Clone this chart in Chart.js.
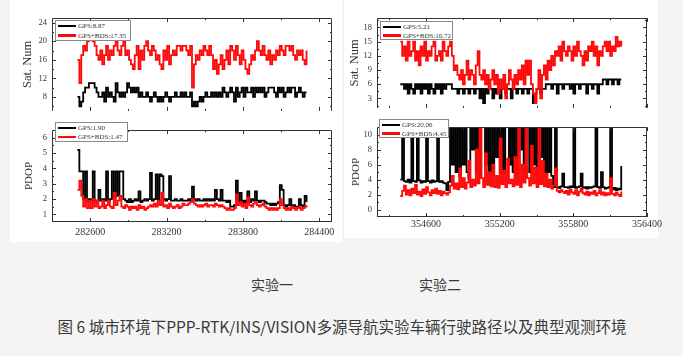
<!DOCTYPE html>
<html><head><meta charset="utf-8">
<script src="https://cdn.jsdelivr.net/npm/chart.js@4.4.1/dist/chart.umd.min.js"></script>
<style>
html,body{margin:0;padding:0;}
body{width:683px;height:356px;background:#f4f4f4;position:relative;overflow:hidden;font-family:"Liberation Serif",serif;}
.sheet{position:absolute;background:#fff;}
canvas{position:absolute;}
.leg{position:absolute;border:1px solid #8a8a8a;background:#fff;box-sizing:border-box;}
.row{position:absolute;left:2px;height:9px;display:flex;align-items:center;white-space:nowrap;font:7px "Liberation Serif",serif;color:#333;}
.row i{display:inline-block;width:18px;height:2.5px;margin-right:2px;}
.cap{position:absolute;font-family:"Noto Sans CJK SC",sans-serif;color:#3a3a3a;white-space:nowrap;transform:translate(-50%,-50%);}
</style></head>
<body>
<div class="sheet" style="left:10px;top:0;width:332px;height:242px"></div>
<div class="sheet" style="left:344px;top:0;width:314px;height:238px"></div>
<canvas id="c1a" width="340" height="121" style="left:0;top:0;width:340px;height:121px"></canvas>
<canvas id="c1b" width="340" height="135" style="left:0;top:120px;width:340px;height:135px"></canvas>
<canvas id="c2a" width="340" height="118" style="left:330px;top:0;width:340px;height:118px"></canvas>
<canvas id="c2b" width="340" height="133" style="left:330px;top:117px;width:340px;height:133px"></canvas>
<div id="legends"></div>
<div class="cap" id="capA" style="left:272px;top:284px;font-size:14px"></div>
<div class="cap" id="capB" style="left:440px;top:284px;font-size:14px"></div>
<div class="cap" id="capMain" style="left:342px;top:326px;font-size:15.5px"></div>
<script>
// ---------- data ----------
const epochStep = 15;
const exp1Start = 282500;
const exp2Start = 354390;

const sat1Gps = [8,6,7,9,10,10,11,11,11,10, 9,8,8,9,7,10,8,9,8,7, 11,9,8,9,8,9,11,10,9,10, 9,10,8,9,8,8,9,8,7,8, 9,8,7,8,7,8,9,8,7,8, 8,9,8,8,9,8,9,8,8,9, 6,7,6,7,8,7,8,9,8,8, 9,8,9,8,9,8,10,9,8,9, 10,9,7,10,8,9,10,8,10,9, 9,10,8,10,9,10,9,10,8,9, 10,10,10,9,8,10,9,10,8,9, 10,9,10,10,8,9,10,9,8,9,9];
const sat1Bds = [16,11,17,19,18,20,21,21,20,19, 17,16,18,15,17,19,16,18,17,19, 20,18,17,19,20,17,18,16,15,14, 17,19,14,18,16,19,20,18,17,19, 18,16,17,15,14,18,16,19,15,17, 18,17,19,19,18,19,19,18,17,19, 10,15,17,16,18,17,19,18,17,19, 17,14,16,13,15,17,14,16,18,15, 19,18,16,19,17,15,18,16,14,13, 15,17,16,18,20,18,17,19,17,16, 18,15,17,16,18,17,19,18,17,19, 19,18,19,17,16,18,17,18,16,15,18];
const pdop1Gps = [5.2,3.8,3.8,2.0,3.8,1.9,2.0,1.9,3.8,1.9, 1.9,2.6,1.9,2.0,1.9,3.8,1.9,2.0,3.8,2.1, 3.8,2.2,3.8,3.8,2.0,1.9,1.8,2.0,1.8,1.9, 2.0,1.9,2.5,1.8,1.9,2.0,1.9,2.0,3.7,1.9, 2.0,3.6,2.0,3.6,3.5,2.0,1.9,2.0,3.5,1.9, 1.9,2.0,1.9,1.9,2.0,1.9,1.9,1.9,2.0,1.9, 2.8,2.0,1.9,2.0,1.9,1.9,2.0,1.9,2.0,1.9, 2.0,1.9,2.6,2.0,1.9,2.6,1.9,1.9,1.8,1.9, 1.5,1.5,1.6,3.2,1.8,2.4,1.7,1.9,1.8,2.5, 1.8,2.0,1.9,2.5,1.9,1.8,1.9,1.9,1.8,1.7, 1.7,1.6,1.7,1.6,1.7,1.8,2.9,2.6,1.6,1.5, 1.6,2.0,1.5,1.6,1.5,1.5,2.0,1.6,1.5,2.2,1.8];
const pdop1Bds = [2.6,3.2,2.2,1.5,2.0,1.4,1.9,1.4,2.0,1.5, 1.9,1.4,1.5,1.9,1.4,1.6,1.9,1.5,1.4,2.4, 1.6,1.9,2.2,1.5,1.4,1.6,1.5,1.3,1.5,1.4, 1.5,1.3,1.6,1.4,1.5,1.3,1.4,1.5,1.6,1.5, 1.7,1.5,1.9,1.6,2.4,1.5,1.6,1.4,1.7,1.5, 1.4,1.5,1.6,1.4,1.5,1.7,1.6,1.6,1.7,1.8, 2.0,1.7,1.6,1.5,1.6,1.5,1.6,1.7,1.5,1.6, 1.6,1.5,1.7,1.6,1.5,1.6,1.5,1.4,1.3,1.4, 1.3,1.3,1.4,2.3,1.6,1.8,1.5,1.7,1.4,2.1, 1.6,1.5,1.7,1.8,1.6,1.5,1.6,1.7,1.5,1.4, 1.3,1.4,1.3,1.4,1.3,1.4,2.0,1.6,1.4,1.3, 1.4,1.3,1.5,1.4,1.3,1.4,1.5,1.3,1.4,1.5,1.6];

const sat2Gps = [6,6,5,6,4,6,5,4,6,5, 6,4,6,5,6,4,6,5,4,6, 5,6,4,6,5,6,6,6,5,5, 5,4,5,5,4,5,5,4,5,5, 4,5,5,3,5,2,5,4,5,5, 3,5,4,5,3,5,5,4,5,5, 3,5,5,4,5,5,4,5,5,4, 5,5,2,4,5,5,4,5,5,6, 6,6,5,6,6,4,6,6,5,6, 6,6,5,6,4,6,6,5,6,6, 6,4,6,6,5,6,6,4,6,6, 7,7,6,7,7,6,7,7,6,7,7];
const sat2Bds = [15,12,14,11,15,12,13,15,11,13, 10,14,12,15,11,13,12,14,15,11, 12,13,11,15,13,12,14,15,12,9, 10,8,7,9,6,8,11,7,9,8, 6,10,13,8,7,9,6,8,5,7, 9,6,8,4,7,5,8,3,6,9, 7,5,8,6,9,7,10,6,11,8, 11,6,4,2,5,9,3,8,10,7, 11,9,12,10,13,12,14,11,15,13, 12,14,13,11,14,12,15,13,12,10, 13,11,14,13,15,12,14,10,13,12, 14,15,13,15,12,14,13,16,14,15,14];
const pdop2Gps = [4.0,30,3.8,3.7,4.0,3.6,30,3.8,3.7,30, 3.9,3.6,3.8,3.7,30,3.8,3.6,3.9,3.7,3.8, 30,3.7,3.8,3.6,3.5,2.6,3.7,30,6,30, 5,30,4.5,30,6,30,5,4.2,30,8, 30,5,30,4.5,30,30,6,30,5,30, 4.5,30,7,30,5,30,4.8,30,30,6, 30,5,30,4.6,30,8,30,5,30,30, 5,30,6,30,4.5,30,7,30,5,30, 5,30,4.5,3.0,30,3.0,2.9,3.1,4.8,3.0, 3.0,2.9,3.1,3.0,30,2.9,3.0,3.1,4.8,2.9, 3.0,2.8,3.0,2.9,3.0,3.1,30,3.0,2.9,5.0, 3.0,2.8,2.9,3.0,30,2.7,2.9,2.6,2.8,2.7,5.8];
const pdop2Bds = [1.8,2.5,3.2,2.0,2.6,1.9,2.8,2.2,3.3,2.0, 2.4,1.8,2.7,2.1,3.0,2.3,1.9,2.6,2.2,2.8, 2.1,2.5,1.9,2.4,2.2,2.0,2.3,3.2,4.5,2.8, 3.5,2.7,5.5,3.0,4.2,2.8,3.6,6.5,3.0,4.0, 3.2,8,3.5,11.5,4.2,3.0,7.5,3.3,5.0,3.1, 6.0,3.0,4.5,2.9,9.5,3.4,5.2,3.0,6.8,3.5, 4.0,3.1,7.0,3.3,12,3.0,6.0,3.6,11.5,4.2, 3.2,8.5,3.5,5.6,3.0,12,3.4,6.5,3.1,4.8, 3.0,4.0,2.8,3.2,5.5,2.5,2.3,2.6,2.4,2.2, 2.5,2.0,2.7,2.3,2.1,2.6,1.9,2.4,2.8,2.2, 2.0,2.4,1.9,2.3,2.1,2.5,1.9,2.2,2.6,2.0, 2.3,1.9,2.2,2.0,4.2,2.1,1.9,2.3,2.0,1.8,2.4];

const timeTicks1 = [282600, 283200, 283800, 284400];
const timeTicks2 = [354600, 355200, 355800, 356400];
const satTicks1 = [8, 12, 16, 20, 24];
const pdopTicks1 = [1, 2, 3, 4, 5, 6];
const satTicks2 = [3, 6, 9, 12, 15, 18];
const pdopTicks2 = [0, 2, 4, 6, 8, 10];

const legendSat1 = ['GPS:8.87', 'GPS+BDS:17.35'];
const legendPdop1 = ['GPS:1.90', 'GPS+BDS:1.47'];
const legendSat2 = ['GPS:5.21', 'GPS+BDS:10.72'];
const legendPdop2 = ['GPS:20.06', 'GPS+BDS:4.45'];

const satTitle = 'Sat. Num';
const pdopTitle = 'PDOP';
const captionA = '实验一';
const captionB = '实验二';
const captionMain = '图 6 城市环境下PPP-RTK/INS/VISION多源导航实验车辆行驶路径以及典型观测环境';

// ---------- helpers ----------
function toPoints(start, vals) {
  return vals.map((v, i) => ({x: start + i * epochStep, y: v}));
}
function minorOf(vals, min, max) {
  const out = [];
  for (let i = 0; i < vals.length - 1; i++) out.push((vals[i] + vals[i + 1]) / 2);
  const st = vals[1] - vals[0];
  out.push(vals[0] - st / 2, vals[vals.length - 1] + st / 2);
  return out.filter(v => v > min && v < max);
}

function makeChart(id, c) {
  const framePlugin = {
    id: 'frame_' + id,
    afterDatasetsDraw(chart) {
      const ctx = chart.ctx, a = chart.chartArea;
      const xs = chart.scales.x, ys = chart.scales.y;
      const L = Math.round(a.left) + 0.5, R = Math.round(a.right) - 0.5;
      const T = Math.round(a.top) + 0.5, B = Math.round(a.bottom) - 0.5;
      ctx.save();
      ctx.strokeStyle = '#333';
      ctx.lineWidth = 1;
      ctx.beginPath();
      ctx.moveTo(L, a.bottom); ctx.lineTo(L, T); ctx.lineTo(R, T); ctx.lineTo(R, a.bottom);
      if (c.showX) { ctx.moveTo(L, B); ctx.lineTo(R, B); }
      const xTick = (v, len) => {
        const p = Math.round(xs.getPixelForValue(v)) + 0.5;
        ctx.moveTo(p, a.bottom); ctx.lineTo(p, a.bottom - len);
        ctx.moveTo(p, a.top); ctx.lineTo(p, a.top + len);
      };
      const yTick = (v, len) => {
        const p = Math.round(ys.getPixelForValue(v)) + 0.5;
        ctx.moveTo(a.left, p); ctx.lineTo(a.left + len, p);
        ctx.moveTo(a.right, p); ctx.lineTo(a.right - len, p);
      };
      c.xTicks.forEach(v => xTick(v, 4));
      minorOf(c.xTicks, c.xMin, c.xMax).forEach(v => xTick(v, 2));
      c.yTicks.forEach(v => yTick(v, 4));
      minorOf(c.yTicks, c.yMin, c.yMax).forEach(v => yTick(v, 2));
      ctx.stroke();
      ctx.restore();
    }
  };
  const xScale = {
    type: 'linear', min: c.xMin, max: c.xMax, display: c.showX,
    grid: {display: false, drawTicks: false}, border: {display: false},
    afterBuildTicks: s => { s.ticks = c.xTicks.map(v => ({value: v})); },
    ticks: {padding: c.xPad, color: '#333', autoSkip: false, maxRotation: 0,
      font: {family: 'Liberation Serif', size: 10}, callback: v => String(v)}
  };
  if (c.showX) xScale.afterFit = s => { s.height = c.xH; };
  return new Chart(document.getElementById(id), {
    type: 'line',
    data: {datasets: [
      {data: toPoints(c.start, c.red), borderColor: '#ff0a0a', borderWidth: 1.8, stepped: true, pointRadius: 0, order: 0, clip: 0},
      {data: toPoints(c.start, c.black), borderColor: '#000000', borderWidth: 1.8, stepped: true, pointRadius: 0, order: 1, clip: 0}
    ]},
    options: {
      responsive: false, animation: false, devicePixelRatio: 1,
      layout: {padding: c.pad},
      plugins: {legend: {display: false}, tooltip: {enabled: false}},
      scales: {
        x: xScale,
        y: {
          type: 'linear', min: c.yMin, max: c.yMax,
          grid: {display: false, drawTicks: false}, border: {display: false},
          afterBuildTicks: s => { s.ticks = c.yTicks.map(v => ({value: v})); },
          afterFit: s => { s.width = c.yW; },
          ticks: {padding: 5, color: '#333', font: {family: 'Liberation Serif', size: 8.5}},
          title: {display: true, text: c.title, color: '#333',
            font: {family: 'Liberation Serif', size: c.titleSize}, padding: {top: c.titlePad, bottom: 0}}
        }
      }
    },
    plugins: [framePlugin]
  });
}

makeChart('c1a', {start: exp1Start, red: sat1Bds, black: sat1Gps, xMin: 282300, xMax: 284500, xTicks: timeTicks1,
  yMin: 5, yMax: 25, yTicks: satTicks1, showX: false, pad: {left: 0, right: 8, top: 18, bottom: 1}, yW: 52,
  title: satTitle, titleSize: 12.5, titlePad: 20.5});
makeChart('c1b', {start: exp1Start, red: pdop1Bds, black: pdop1Gps, xMin: 282300, xMax: 284500, xTicks: timeTicks1,
  yMin: 0.5, yMax: 6.5, yTicks: pdopTicks1, showX: true, xH: 33, xPad: 4, pad: {left: 0, right: 8, top: 0, bottom: 0}, yW: 52,
  title: pdopTitle, titleSize: 11, titlePad: 22.5});
makeChart('c2a', {start: exp2Start, red: sat2Bds, black: sat2Gps, xMin: 354200, xMax: 356400, xTicks: timeTicks2,
  yMin: 1, yMax: 20, yTicks: satTicks2, showX: false, pad: {left: 0, right: 23, top: 18, bottom: 1}, yW: 47,
  title: satTitle, titleSize: 12.5, titlePad: 17.5});
makeChart('c2b', {start: exp2Start, red: pdop2Bds, black: pdop2Gps, xMin: 354200, xMax: 356400, xTicks: timeTicks2,
  yMin: -1, yMax: 11, yTicks: pdopTicks2, showX: true, xH: 33, xPad: 1, pad: {left: 0, right: 23, top: 0, bottom: 0}, yW: 47,
  title: pdopTitle, titleSize: 11, titlePad: 19.5});

// ---------- legends ----------
function legend(x, y, w, h, labels) {
  const box = document.createElement('div');
  box.className = 'leg';
  box.style.cssText = `left:${x}px;top:${y}px;width:${w}px;height:${h}px`;
  const colors = ['#000', '#ff0a0a'];
  labels.forEach((t, i) => {
    const r = document.createElement('div');
    r.className = 'row';
    r.style.top = (i === 0 ? 0.5 : h / 2 - 0.5) + 'px';
    const sw = document.createElement('i');
    sw.style.background = colors[i];
    r.appendChild(sw);
    r.appendChild(document.createTextNode(t));
    box.appendChild(r);
  });
  document.getElementById('legends').appendChild(box);
}
legend(55, 20, 76, 21, legendSat1);
legend(55, 122, 73, 20, legendPdop1);
legend(380, 21, 73, 19, legendSat2);
legend(379, 119, 70, 19, legendPdop2);

document.getElementById('capA').textContent = captionA;
document.getElementById('capB').textContent = captionB;
document.getElementById('capMain').textContent = captionMain;
</script>
</body></html>
